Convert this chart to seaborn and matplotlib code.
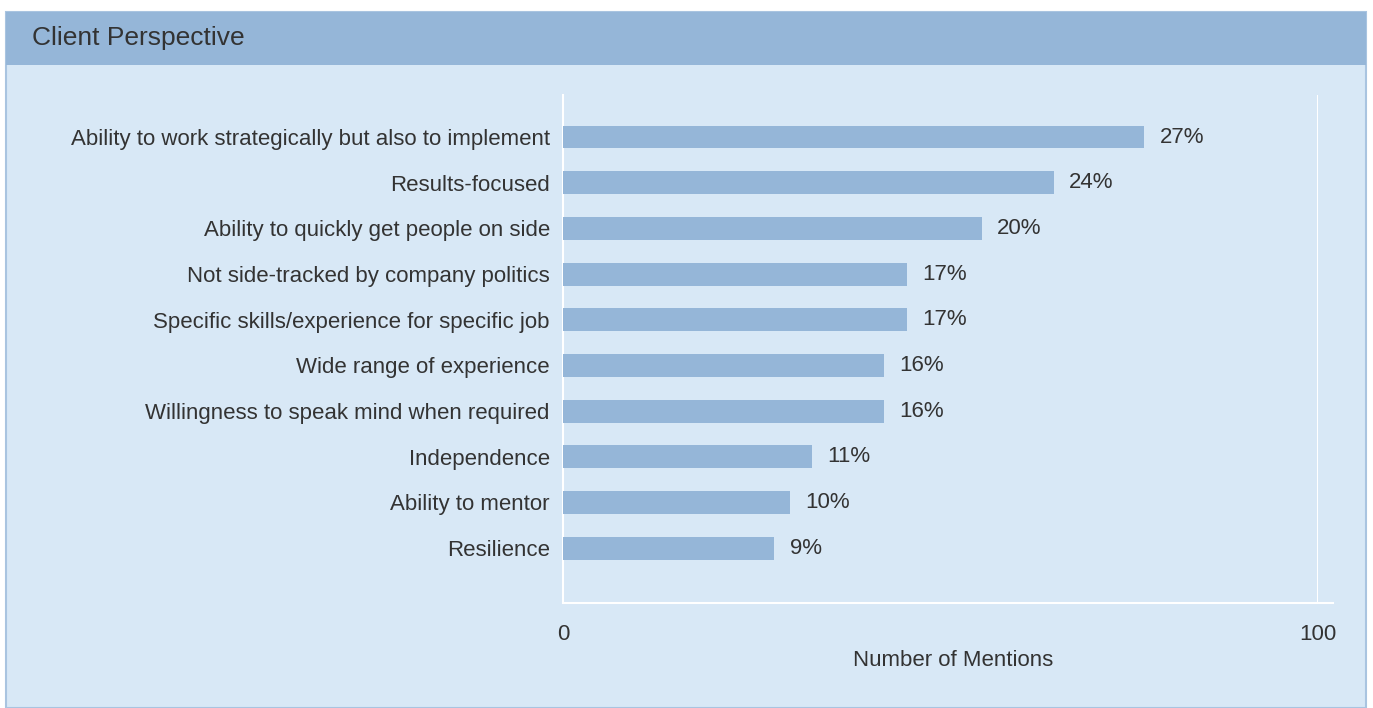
import matplotlib
matplotlib.use("Agg")
import matplotlib.pyplot as plt
import seaborn as sns
import pandas as pd
from matplotlib.patches import Rectangle

categories = [
    "Ability to work strategically but also to implement",
    "Results-focused",
    "Ability to quickly get people on side",
    "Not side-tracked by company politics",
    "Specific skills/experience for specific job",
    "Wide range of experience",
    "Willingness to speak mind when required",
    "Independence",
    "Ability to mentor",
    "Resilience",
]
mentions = [77, 65, 55.5, 45.5, 45.5, 42.5, 42.5, 33, 30, 28]
pct_labels = ["27%", "24%", "20%", "17%", "17%", "16%", "16%", "11%", "10%", "9%"]
x_ticks = [0, 100]
title = "Client Perspective"
x_label = "Number of Mentions"

df = pd.DataFrame({"category": categories, "mentions": mentions})

sns.set_theme(style="white")
plt.rcParams["font.family"] = ["Liberation Sans", "DejaVu Sans"]

W, H = 1373, 708
TXT = "#333333"
fig = plt.figure(figsize=(W / 100, H / 100), dpi=100, facecolor="white")

# panel background and header band
fig.patches.append(Rectangle((6 / W, 0), (1366 - 6) / W, (708 - 12) / H,
                             transform=fig.transFigure, facecolor="#d8e8f6",
                             edgecolor="#a9c4e0", linewidth=1.5, zorder=-2))
fig.patches.append(Rectangle((6 / W, (708 - 65) / H), (1366 - 6) / W, (65 - 12) / H,
                             transform=fig.transFigure, facecolor="#95b6d8",
                             edgecolor="none", zorder=-1))
fig.text(32 / W, (708 - 38) / H, title, fontsize=19, color=TXT,
         ha="left", va="center")

ax = fig.add_axes([563 / W, (708 - 603) / H, (1318 - 563) / W, (603 - 95) / H])
ax.set_facecolor("none")
ax.set_zorder(2)

sns.barplot(data=df, x="mentions", y="category", orient="h", color="#95b6d8",
            width=0.5, saturation=1, linewidth=0, ax=ax, zorder=3)

ax.set_xlim(0, 100)
ax.set_ylim(len(categories) - 1 + 1.2, -0.92)
ax.set_xticks(x_ticks)
ax.set_xticklabels([str(t) for t in x_ticks])
ax.tick_params(axis="x", length=0, pad=15, labelsize=16, labelcolor=TXT)
ax.tick_params(axis="y", length=0, pad=9.5, labelsize=16, labelcolor=TXT)
ax.set_ylabel("")
ax.set_xlabel(x_label, fontsize=16, color=TXT)
ax.xaxis.set_label_coords(0.517, -0.114)
ax.xaxis.label.set_va("center")

for s in ["top", "right"]:
    ax.spines[s].set_visible(False)
for s in ["left", "bottom"]:
    ax.spines[s].set_color("white")
    ax.spines[s].set_linewidth(1.5)
ax.spines["bottom"].set_bounds(0, 102)
ax.axvline(100, color="white", linewidth=1.5, zorder=1)

for i, (v, lab) in enumerate(zip(mentions, pct_labels)):
    ax.annotate(lab, xy=(v, i), xytext=(11, 0), textcoords="offset points",
                ha="left", va="center", fontsize=16, color=TXT)

fig.savefig("out.png", dpi=100, facecolor="white")
